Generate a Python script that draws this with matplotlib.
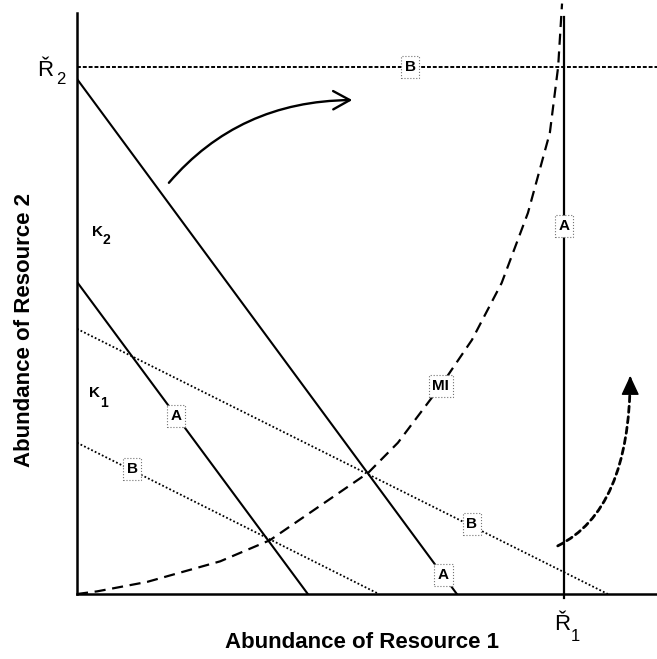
import matplotlib
matplotlib.use("Agg")
import matplotlib.pyplot as plt
from matplotlib.patches import FancyArrowPatch

plt.rcParams['font.family'] = ['Liberation Sans', 'DejaVu Sans']

# supply point (resource units)
R1_SUPPLY = 10.0
R2_SUPPLY = 10.0

# ZNGI lines: (intercept on resource 2 axis, intercept on resource 1 axis)
outer_A = (9.77, 7.80)
inner_A = (5.92, 4.74)
outer_B = (5.03, 10.90)
inner_B = (2.87, 6.20)

# MI curve
mi_x = [0.0, 0.41, 1.44, 2.94, 3.96, 5.98, 6.59, 7.47, 8.11, 8.72, 9.26, 9.71, 9.88, 9.96]
mi_y = [0.0, 0.05, 0.23, 0.62, 1.02, 2.30, 2.87, 3.95, 4.82, 5.90, 7.23, 8.75, 10.0, 11.2]

# boxed line labels: text, x, y
box_labels = [
    ("B", 6.84, 10.0),
    ("A", 10.0, 6.98),
    ("MI", 7.47, 3.95),
    ("B", 8.11, 1.33),
    ("A", 7.52, 0.36),
    ("A", 2.03, 3.38),
    ("B", 1.13, 2.37),
]

# arrows: start, end
solid_arrow = ((1.85, 7.76), (5.71, 9.37))
dotted_arrow = ((9.82, 0.89), (11.36, 4.19))

XMAX, YMAX = 11.91, 11.02

fig = plt.figure(figsize=(6.57, 6.59), dpi=100)
ax = fig.add_axes([0.1172, 0.0986, 0.8828, 0.8816])
ax.set_xlim(0, XMAX)
ax.set_ylim(0, YMAX)

for side in ('top', 'right'):
    ax.spines[side].set_visible(False)
for side in ('left', 'bottom'):
    ax.spines[side].set_linewidth(1.8)
ax.set_xticks([])
ax.set_yticks([])

solid = dict(color='black', lw=1.5)
dots = dict(color='black', lw=1.3, linestyle=(0, (1, 1.2)))

for y0, x0 in (outer_A, inner_A):
    ax.plot([0, x0], [y0, 0], **solid)
for y0, x0 in (outer_B, inner_B):
    ax.plot([0, x0], [y0, 0], **dots)

# supply lines
ax.plot([0, XMAX], [R2_SUPPLY, R2_SUPPLY], color='black', lw=1.4,
        linestyle=(0, (2, 1)), clip_on=False)
ax.plot([R1_SUPPLY, R1_SUPPLY], [-0.08, 10.95], color='black', lw=1.6,
        clip_on=False)

ax.plot(mi_x, mi_y, color='black', lw=1.6, linestyle=(0, (5, 3)),
        clip_on=False)

for txt, x, y in box_labels:
    ax.text(x, y, txt, ha='center', va='center', fontsize=11,
            fontweight='bold', zorder=5,
            bbox=dict(boxstyle='square,pad=0.25', fc='white', ec='0.45',
                      lw=0.8, ls=':'))

(sx, sy), (ex, ey) = solid_arrow
ax.add_patch(FancyArrowPatch((sx, sy), (ex, ey),
                             connectionstyle="angle3,angleA=50,angleB=0",
                             arrowstyle="->,head_length=0.6,head_width=0.33",
                             mutation_scale=20, lw=1.7, color='black'))

# dashed body, then a solid head on the last bit (ends going straight up)
(sx, sy), (ex, ey) = dotted_arrow
ax.add_patch(FancyArrowPatch((sx, sy), (ex, ey - 0.05),
                             connectionstyle="angle3,angleA=25,angleB=90",
                             arrowstyle="-", lw=2.0, color='black',
                             linestyle=(0, (2.2, 1.6)), clip_on=False))
ax.add_patch(FancyArrowPatch((ex, ey - 0.3), (ex, ey),
                             arrowstyle="-|>,head_length=0.6,head_width=0.28",
                             mutation_scale=20, lw=1.0, color='black',
                             clip_on=False))

# supply point labels
ax.text(-0.49, 9.83, "Ř", ha='right', va='baseline', fontsize=16, clip_on=False)
ax.text(-0.42, 9.68, "2", ha='left', va='baseline', fontsize=12, clip_on=False)
ax.text(10.12, -0.68, "Ř", ha='right', va='baseline', fontsize=16, clip_on=False)
ax.text(10.13, -0.89, "1", ha='left', va='baseline', fontsize=12, clip_on=False)

# K labels
ax.text(0.30, 6.79, "K", ha='left', va='baseline', fontsize=11, fontweight='bold')
ax.text(0.52, 6.64, "2", ha='left', va='baseline', fontsize=10, fontweight='bold')
ax.text(0.24, 3.74, "K", ha='left', va='baseline', fontsize=11, fontweight='bold')
ax.text(0.47, 3.55, "1", ha='left', va='baseline', fontsize=10, fontweight='bold')

ax.set_xlabel("Abundance of Resource 1", fontsize=16, fontweight='bold', va='center')
ax.xaxis.set_label_coords(0.491, -0.084)
ax.set_ylabel("Abundance of Resource 2", fontsize=16, fontweight='bold', va='center')
ax.yaxis.set_label_coords(-0.091, 0.454)

fig.savefig("out.png", dpi=100)
